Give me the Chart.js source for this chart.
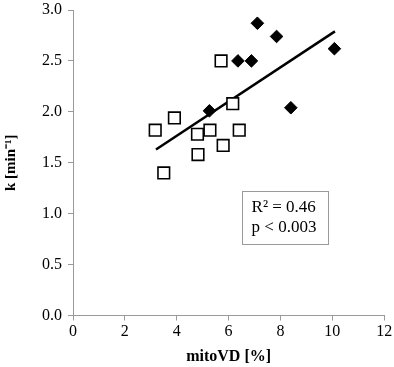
<!DOCTYPE html>
<html>
<head>
<meta charset="utf-8">
<script src="https://cdn.jsdelivr.net/npm/chart.js@4.4.1/dist/chart.umd.min.js"></script>
<style>
  html, body { margin: 0; padding: 0; background: #fff; }
  #wrap { width: 394px; height: 367px; }
</style>
</head>
<body>
<div id="wrap"><canvas id="chart" width="394" height="367"></canvas></div>
<script>
// Data
const openX = [5.71, 6.16, 3.91, 3.17, 4.80, 5.28, 6.41, 5.79, 4.82, 3.50];
const openY = [2.50, 2.08, 1.94, 1.82, 1.78, 1.82, 1.82, 1.67, 1.58, 1.40];
const filledX = [7.11, 7.85, 10.08, 6.36, 6.88, 5.26, 8.40];
const filledY = [2.87, 2.74, 2.62, 2.50, 2.50, 2.01, 2.04];
const fitX = [3.2, 10.1];
const fitY = [1.63, 2.79];
const statsLines = ["R\u00B2 = 0.46", "p < 0.003"];

const xTicks = [0, 2, 4, 6, 8, 10, 12];
const yTicks = [0, 0.5, 1.0, 1.5, 2.0, 2.5, 3.0];

const toPoints = (xs, ys) => xs.map((x, i) => ({ x, y: ys[i] }));

const axisGray = "#9a9a9a";
const serif = "'Liberation Serif', 'Times New Roman', serif";

// Stats box in the lower right of the plot
const statsBox = {
  id: "statsBox",
  afterDraw(chart) {
    const { ctx, scales } = chart;
    const left = scales.x.getPixelForValue(6.5);
    const right = scales.x.getPixelForValue(9.8);
    const top = scales.y.getPixelForValue(1.22);
    const bottom = scales.y.getPixelForValue(0.70);
    ctx.save();
    ctx.strokeStyle = axisGray;
    ctx.lineWidth = 1;
    ctx.strokeRect(Math.round(left) + 0.5, Math.round(top) + 0.5,
      Math.round(right - left), Math.round(bottom - top));
    ctx.fillStyle = "#000";
    ctx.font = "17px " + serif;
    ctx.textBaseline = "middle";
    ctx.fillText(statsLines[0], left + 10, top + 16);
    ctx.fillText(statsLines[1], left + 10, top + 36);
    ctx.restore();
  }
};

new Chart(document.getElementById("chart"), {
  type: "scatter",
  data: {
    datasets: [
      {
        label: "open",
        data: toPoints(openX, openY),
        pointStyle: "rect",
        pointRadius: 8.2,
        pointBorderWidth: 1.6,
        pointBackgroundColor: "#fff",
        pointBorderColor: "#000",
        order: 1
      },
      {
        label: "filled",
        data: toPoints(filledX, filledY),
        pointStyle: "rectRot",
        pointRadius: 6.3,
        pointBorderWidth: 1,
        pointBackgroundColor: "#000",
        pointBorderColor: "#000",
        order: 2
      },
      {
        label: "fit",
        type: "line",
        data: toPoints(fitX, fitY),
        borderColor: "#000",
        borderWidth: 2.5,
        pointRadius: 0,
        fill: false,
        order: 3
      }
    ]
  },
  options: {
    responsive: false,
    animation: false,
    layout: { padding: { left: 0, right: 8, top: 10, bottom: 0 } },
    plugins: { legend: { display: false }, tooltip: { enabled: false } },
    scales: {
      x: {
        type: "linear",
        min: 0,
        max: 12,
        afterBuildTicks: (s) => { s.ticks = xTicks.map(v => ({ value: v })); },
        afterFit: (s) => { s.height = 51.5; s.paddingLeft = 0; s.paddingRight = 0; },
        grid: { drawOnChartArea: false, drawTicks: true, tickLength: 5, color: axisGray },
        border: { display: true, color: axisGray, width: 1 },
        ticks: { color: "#000", padding: 2, font: { family: serif, size: 16 }, maxRotation: 0 },
        title: {
          display: true,
          text: "mitoVD [%]",
          color: "#000",
          padding: { top: 0, bottom: 1 },
          font: { family: serif, size: 16, weight: "bold" }
        }
      },
      y: {
        type: "linear",
        min: 0,
        max: 3,
        afterBuildTicks: (s) => { s.ticks = yTicks.map(v => ({ value: v })); },
        afterFit: (s) => { s.width = 73; s.paddingTop = 0; s.paddingBottom = 0; },
        grid: { drawOnChartArea: false, drawTicks: true, tickLength: 5, color: axisGray },
        border: { display: true, color: axisGray, width: 1 },
        ticks: {
          color: "#000",
          padding: 6,
          font: { family: serif, size: 16 },
          callback: (v) => Number(v).toFixed(1)
        },
        title: {
          display: true,
          text: "k [min\u207B\u00B9]",
          color: "#000",
          padding: { top: 2, bottom: 0 },
          font: { family: serif, size: 15, weight: "bold" }
        }
      }
    }
  },
  plugins: [statsBox]
});
</script>
</body>
</html>
